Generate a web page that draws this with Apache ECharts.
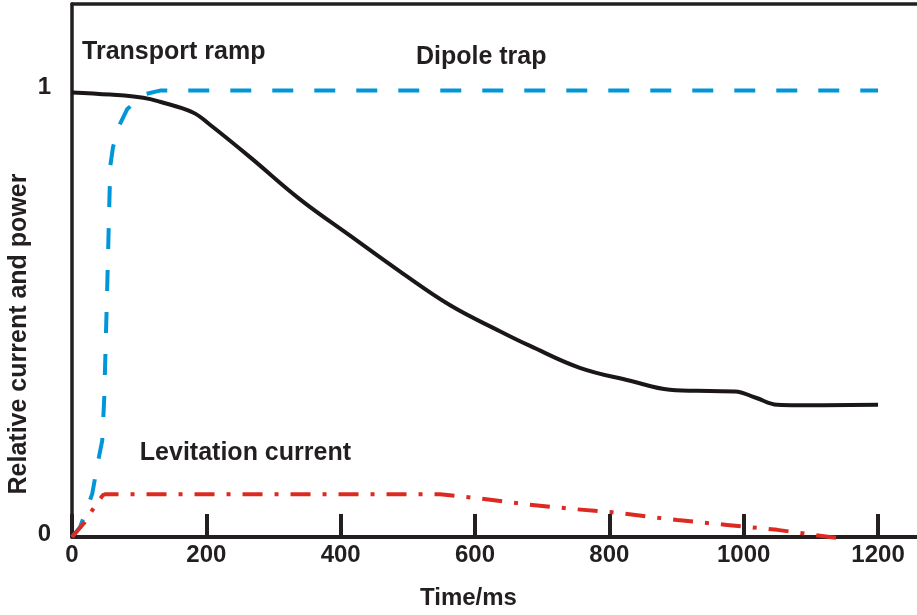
<!DOCTYPE html>
<html>
<head>
<meta charset="utf-8">
<script src="https://cdn.jsdelivr.net/npm/echarts@6/dist/echarts.min.js"></script>
<style>
  html, body { margin: 0; padding: 0; background: #fff; }
  #chart { width: 917px; height: 615px; }
</style>
</head>
<body>
<div id="chart"></div>
<script>
// time axis ticks (ms) and level ticks
const TIME_TICKS = [0, 200, 400, 600, 800, 1000, 1200];
const LEVEL_TICKS = [0, 1];

// [time/ms, relative value]
const TRANSPORT_RAMP = [
  [0, 0.996], [57, 0.991], [106, 0.984], [131, 0.975], [180, 0.951], [205, 0.924],
  [265, 0.851], [339, 0.757], [414, 0.675], [488, 0.595], [563, 0.519],
  [637, 0.461], [682, 0.428], [756, 0.379], [831, 0.350], [890, 0.330], [950, 0.327],
  [987, 0.326], [1018, 0.312], [1050, 0.296], [1080, 0.295], [1200, 0.296]
];
const DIPOLE_TRAP = [
  [0, 0], [12, 0.022], [30, 0.096], [39, 0.171], [45, 0.216], [48, 0.312], [52, 0.535],
  [55, 0.713], [57, 0.831], [61, 0.873], [71, 0.924], [82, 0.958], [106, 0.991],
  [131, 1.0], [1200, 1.0]
];
const LEVITATION = [
  [0, 0], [19, 0.033], [31, 0.062], [46, 0.094], [50, 0.096], [548, 0.096], [603, 0.087],
  [677, 0.073], [752, 0.062], [801, 0.056], [901, 0.038], [975, 0.027], [1050, 0.016],
  [1128, 0], [1150, -0.004]
];
// curve labels placed at data coordinates (left edge, vertical middle)
const LABELS = [
  { name: "Transport ramp", coord: [15, 1.087] },
  { name: "Dipole trap", coord: [512, 1.074] },
  { name: "Levitation current", coord: [101, 0.189] }
];

const INK = "#231f20";
const BLUE = "#0096d8";
const RED = "#dc2a23";
const FONT = 'Arial, "Liberation Sans", sans-serif';

const chart = echarts.init(document.getElementById("chart"));

chart.setOption({
  backgroundColor: "#fff",
  animation: false,
  grid: { left: 72, right: 0, top: 4, bottom: 75 },
  xAxis: [
    {
      type: "value", min: 0, max: 1258, position: "bottom",
      name: "Time/ms", nameLocation: "middle", nameGap: 49,
      nameTextStyle: { color: INK, fontSize: 24, fontWeight: "bold", fontFamily: FONT, padding: [0, 52, 0, 0] },
      axisLine: { show: true, onZero: false, lineStyle: { color: INK, width: 4 } },
      axisTick: { show: true, inside: true, length: 23, customValues: TIME_TICKS, lineStyle: { color: INK, width: 4 } },
      axisLabel: {
        customValues: TIME_TICKS, formatter: v => String(v),
        color: INK, fontSize: 24, fontWeight: "bold", fontFamily: FONT, margin: 6
      },
      splitLine: { show: false }
    },
    {
      type: "value", min: 0, max: 1258, position: "top",
      axisLine: { show: true, onZero: false, lineStyle: { color: INK, width: 3.5 } },
      axisTick: { show: false }, axisLabel: { show: false }, splitLine: { show: false }
    }
  ],
  yAxis: {
    type: "value", min: 0, max: 1.194,
    axisLine: { show: true, onZero: false, lineStyle: { color: INK, width: 3.5 } },
    axisTick: { show: false },
    axisLabel: {
      customValues: LEVEL_TICKS, formatter: v => String(v),
      color: INK, fontSize: 24, fontWeight: "bold", fontFamily: FONT,
      margin: 21, verticalAlign: "bottom", lineHeight: 6
    },
    splitLine: { show: false }
  },
  graphic: [{
    type: "text", x: 19, y: 334, rotation: Math.PI / 2,
    style: {
      text: "Relative current and power", fill: INK, fontSize: 25, fontWeight: "bold",
      fontFamily: FONT, align: "center", verticalAlign: "middle"
    }
  }],
  series: [
    {
      name: "Transport ramp", type: "line", data: TRANSPORT_RAMP, symbol: "none",
      smooth: 0.4, z: 3,
      lineStyle: { color: "#1b1718", width: 4, join: "round" },
      markPoint: {
        symbol: "circle", symbolSize: 0, silent: true,
        label: {
          show: true, position: "right", distance: 0, formatter: "{b}",
          color: INK, fontSize: 25, fontWeight: "bold", fontFamily: FONT
        },
        data: LABELS.map(l => ({ name: l.name, coord: l.coord }))
      }
    },
    {
      name: "Dipole trap", type: "line", data: DIPOLE_TRAP, symbol: "none",
      smooth: false, z: 2,
      lineStyle: { color: BLUE, width: 4, type: [21, 21], cap: "butt", join: "round" }
    },
    {
      name: "Levitation current", type: "line", data: LEVITATION, symbol: "none",
      smooth: false, clip: false, z: 2,
      lineStyle: { color: RED, width: 4, type: [20, 12, 4, 12], cap: "butt" }
    }
  ]
});
</script>
</body>
</html>
